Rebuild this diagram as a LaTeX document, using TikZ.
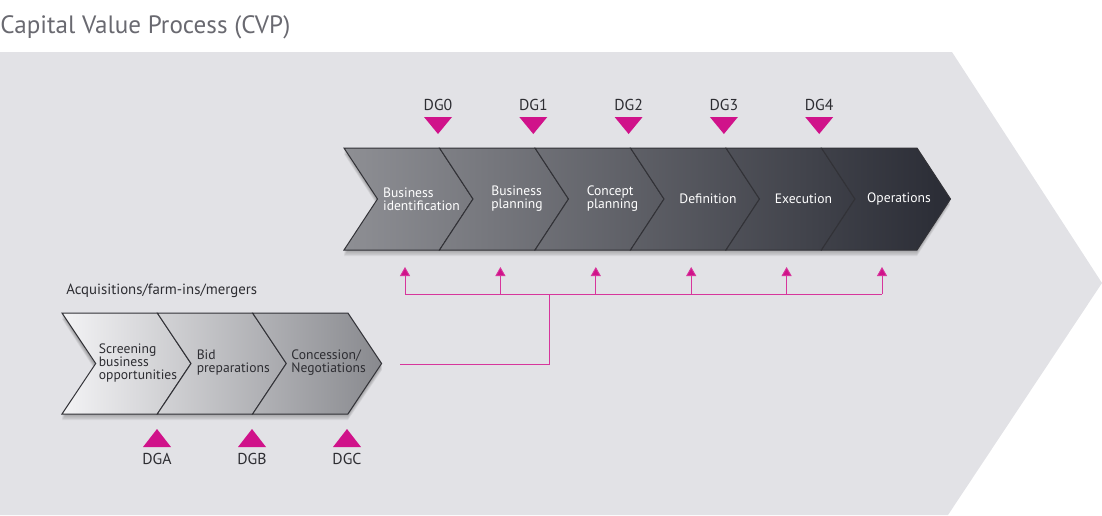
\documentclass[tikz,border=0pt]{standalone}
\usepackage{fontspec}
\setmainfont{PT Sans}
\usetikzlibrary{positioning, arrows.meta}

\definecolor{cvpbg}{RGB}{226,226,230}
\definecolor{cvptitle}{RGB}{105,105,112}
\definecolor{cvptext}{RGB}{45,45,50}
\definecolor{cvpmag}{RGB}{208,18,138}
\definecolor{cvpline}{RGB}{50,50,55}
\definecolor{rowlight}{RGB}{142,143,148}
\definecolor{rowdark}{RGB}{42,44,53}
\definecolor{acqlight}{RGB}{243,243,245}
\definecolor{acqdark}{RGB}{136,137,142}

\tikzset{
  segtext/.style={align=left, font=\fontsize{6.8}{6.5}\selectfont, inner sep=0pt},
  gatelbl/.style={font=\fontsize{7.9}{8}\selectfont, text=cvptext, inner sep=0pt},
  feed/.style={cvpmag!85!white, line width=0.45pt},
}

\begin{document}
\begin{tikzpicture}[x=0.5pt,y=-0.5pt,>=Stealth]
  \useasboundingbox (0,0) rectangle (1102,515);
  % background arrow
  \fill[cvpbg] (0,52) -- (952,52) -- (1102,283) -- (948,515) -- (0,515) -- cycle;
  \node[anchor=base west,inner sep=0pt,font=\fontsize{12.55}{14}\selectfont,text=cvptitle] (title) at (0,33){Capital Value Process (CVP)};

  % main row (DG0--DG4)
  \foreach \s in {1,...,5}
    \fill[black,opacity=0.06,yshift=-\s*0.6pt] (344,148) -- (917,148) -- (950,199) -- (917,250) -- (344,250) -- (377,199) -- cycle;
  \foreach \lbl [count=\i from 0] in {{Business\\identification},{Business\\planning},{Concept\\planning},Definition,Execution,Operations}{
    \pgfmathsetmacro{\xa}{344+95.5*\i}
    \pgfmathsetmacro{\pl}{15.8*\i}
    \pgfmathsetmacro{\pr}{15.8*\i+21.3}
    \path[draw=cvpline,line width=0.5pt,left color=rowdark!\pl!rowlight,right color=rowdark!\pr!rowlight]
      (\xa,148) -- ++(95.5,0) -- ++(33.5,51) -- ++(-33.5,51) -- ++(-95.5,0) -- ++(33.5,-51) -- cycle;
    \node[segtext,text=white] (seg\i) at (\xa+77.5,199){\lbl};
  }
  \foreach \g in {0,...,4}{
    \pgfmathsetmacro{\xg}{438+95.3*\g}
    \fill[cvpmag] (\xg-14,117) -- (\xg+14,117) -- (\xg,134) -- cycle;
    \node[gatelbl] (dg\g) at (\xg,104.5){DG\g};
  }

  % acquisitions row (DGA--DGC)
  \node[anchor=west,inner sep=0pt,font=\fontsize{7.4}{8}\selectfont,text=cvptext] (acq) at (66,291){Acquisitions/farm-ins/mergers};
  \foreach \s in {1,...,5}
    \fill[black,opacity=0.06,yshift=-\s*0.6pt] (62,313) -- (348,313) -- (382,364) -- (348,414) -- (62,414) -- (95,364) -- cycle;
  \foreach \lbl [count=\i from 0] in {{Screening\\business\\opportunities},{Bid\\preparations},{Concession/\\Negotiations}}{
    \pgfmathsetmacro{\xa}{62+95.3*\i}
    \pgfmathsetmacro{\pl}{29.8*\i}
    \pgfmathsetmacro{\pr}{29.8*\i+40.3}
    \path[draw=cvpline,line width=0.5pt,left color=acqdark!\pl!acqlight,right color=acqdark!\pr!acqlight]
      (\xa,313) -- ++(95.3,0) -- ++(33.7,50.5) -- ++(-33.7,50.5) -- ++(-95.3,0) -- ++(33.7,-50.5) -- cycle;
    \node[segtext,text=cvptext] (acqseg\i) at (\xa+76,363){\lbl};
  }
  \foreach \g [count=\i] in {A,B,C}{
    \pgfmathsetmacro{\xg}{62+95*\i}
    \fill[cvpmag] (\xg-14,447) -- (\xg+14,447) -- (\xg,429) -- cycle;
    \node[gatelbl] (dg\g) at (\xg,459){DG\g};
  }

  % feed lines into main row
  \foreach \i in {0,...,5}{
    \pgfmathsetmacro{\xf}{405+95.4*\i}
    \coordinate (bus\i) at (\xf,294);
    \coordinate (in\i) at (\xf,267);
    \draw[feed,-{Triangle[width=5pt,length=4.5pt,fill=cvpmag]}] (bus\i) -- (in\i);
  }
  \draw[feed] (bus0) -- (bus5);
  \coordinate (jn) at (549,294);
  \coordinate (out) at (400,364);
  \draw[feed] (out) -| (jn);
\end{tikzpicture}
\end{document}
